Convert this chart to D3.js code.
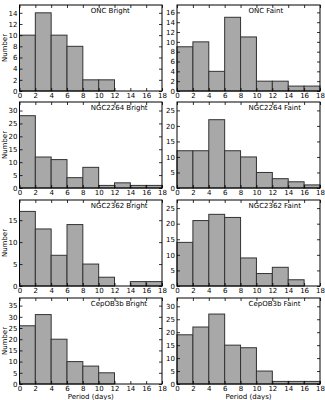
<!DOCTYPE html>
<html><head><meta charset="utf-8">
<script src="https://cdn.jsdelivr.net/npm/d3@7"></script>
<style>
html,body{margin:0;padding:0;background:#fff;}
svg{display:block;}
text{font-family:"DejaVu Sans",sans-serif;}
</style></head>
<body>
<script>
// ---- data ----
const binEdges = [0,2,4,6,8,10,12,14,16,18];
const xTicks = [0,2,4,6,8,10,12,14,16,18];
const titles = ["ONC Bright","ONC Faint","NGC2264 Bright","NGC2264 Faint","NGC2362 Bright","NGC2362 Faint","CepOB3b Bright","CepOB3b Faint"];
const oncBright     = [10,14,10,8,2,2,0,0,0];
const oncFaint      = [9,10,4,15,11,2,2,1,1];
const ngc2264Bright = [28,12,11,4,8,1,2,1,1];
const ngc2264Faint  = [12,12,22,12,10,5,3,2,1];
const ngc2362Bright = [17,13,7,14,5,2,0,1,1];
const ngc2362Faint  = [14,21,23,22,9,4,6,2,0];
const cepBright     = [26,31,20,10,8,5,0,0,0];
const cepFaint      = [19,22,27,15,14,5,1,1,1];
const series = [oncBright,oncFaint,ngc2264Bright,ngc2264Faint,ngc2362Bright,ngc2362Faint,cepBright,cepFaint];
const yMax = [15.4,17.5,33.3,27.7,19.6,27.6,38.4,33.2];
const yTicks = [
  [0,2,4,6,8,10,12,14],
  [0,2,4,6,8,10,12,14,16],
  [0,5,10,15,20,25,30],
  [0,5,10,15,20,25],
  [0,5,10,15],
  [0,5,10,15,20,25],
  [0,5,10,15,20,25,30,35],
  [0,5,10,15,20,25,30]
];
const yLabel = "Number";
const xLabel = "Period (days)";

// ---- layout ----
const W = 325, H = 400;
const colX = [[19.5,162],[177,320]];
const rowTop = [5,102,200,298];
const ph = 86;
const fs = 7;

const svg = d3.select("body").append("svg").attr("width",W).attr("height",H);

series.forEach((vals,i)=>{
  const c = i%2, r = Math.floor(i/2);
  const [x0,x1] = colX[c];
  const y0 = rowTop[r], y1 = rowTop[r]+ph;
  const x = d3.scaleLinear().domain([0,18]).range([x0,x1]);
  const y = d3.scaleLinear().domain([0,yMax[i]]).range([y1,y0]);
  const g = svg.append("g");

  // bars
  g.selectAll("rect.bar").data(vals).join("rect")
    .attr("class","bar")
    .attr("x",(d,j)=>x(binEdges[j]))
    .attr("width",(d,j)=>x(binEdges[j+1])-x(binEdges[j]))
    .attr("y",d=>y(d))
    .attr("height",d=>y(0)-y(d))
    .attr("fill","#a8a8a8")
    .attr("stroke","#333")
    .attr("stroke-width",1);

  // axes (inward ticks)
  const fmt = d3.format("d");
  const ax = g.append("g").attr("transform",`translate(0,${y1})`)
    .call(d3.axisBottom(x).tickValues(xTicks).tickSize(-3).tickPadding(2).tickFormat(fmt));
  const axT = g.append("g").attr("transform",`translate(0,${y0})`)
    .call(d3.axisTop(x).tickValues(xTicks).tickSize(-3).tickFormat(""));
  const ay = g.append("g").attr("transform",`translate(${x0},0)`)
    .call(d3.axisLeft(y).tickValues(yTicks[i]).tickSize(-3).tickPadding(2).tickFormat(fmt));
  const ayR = g.append("g").attr("transform",`translate(${x1},0)`)
    .call(d3.axisRight(y).tickValues(yTicks[i]).tickSize(-3).tickFormat(""));
  [ax,axT,ay,ayR].forEach(a=>{
    a.select(".domain").remove();
    a.selectAll("line").attr("stroke","#000").attr("stroke-width",0.8);
    a.selectAll("text").attr("font-size",fs).attr("fill","#000").attr("font-family","DejaVu Sans");
  });
  ax.selectAll("text").attr("dy","0.71em");

  // frame
  g.append("rect").attr("x",x0).attr("y",y0).attr("width",x1-x0).attr("height",y1-y0)
    .attr("fill","none").attr("stroke","#000").attr("stroke-width",1);

  // title
  g.append("text").attr("x",x(9)).attr("y",y0+7.5)
    .attr("font-size",fs).attr("fill","#000").text(titles[i]);

  if(c===0){
    g.append("text").attr("transform",`translate(5,${(y0+y1)/2}) rotate(-90)`)
      .attr("text-anchor","middle").attr("dy","0.35em").attr("font-size",fs).text(yLabel);
  }
  if(r===3){
    g.append("text").attr("x",(x0+x1)/2).attr("y",399)
      .attr("text-anchor","middle").attr("font-size",fs).text(xLabel);
  }
});
</script>
</body></html>
